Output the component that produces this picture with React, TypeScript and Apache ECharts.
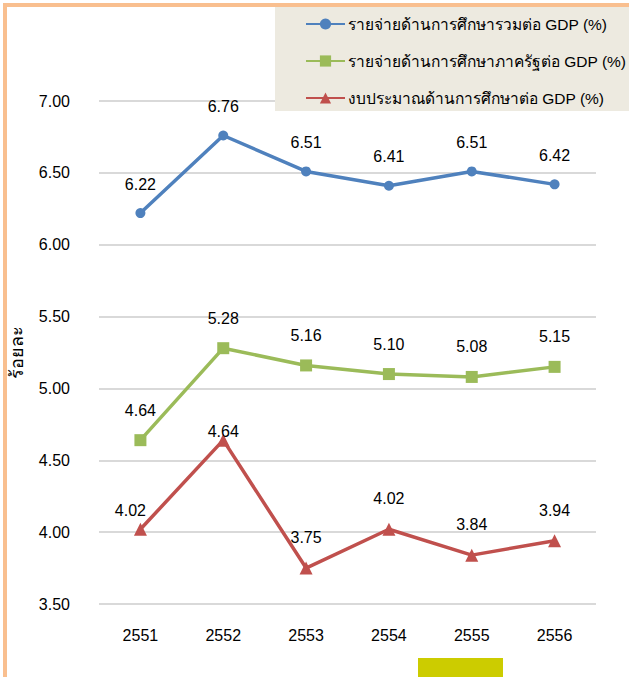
import React, { useEffect, useRef } from "react";
import * as echarts from "echarts";

const years = ["2551", "2552", "2553", "2554", "2555", "2556"];
const totalSpending = [6.22, 6.76, 6.51, 6.41, 6.51, 6.42];
const publicSpending = [4.64, 5.28, 5.16, 5.1, 5.08, 5.15];
const budget = [4.02, 4.64, 3.75, 4.02, 3.84, 3.94];
const seriesNames = [
  "รายจ่ายด้านการศึกษารวมต่อ GDP (%)",
  "รายจ่ายด้านการศึกษาภาครัฐต่อ GDP (%)",
  "งบประมาณด้านการศึกษาต่อ GDP (%)",
];
const yAxisName = "ร้อยละ";

const FONT = "'Liberation Sans', Arial, 'Noto Sans', sans-serif";

export default function App() {
  const ref = useRef<HTMLDivElement>(null);
  useEffect(() => {
    if (!ref.current) return;
    const chart = echarts.init(ref.current, null, { renderer: "svg" });
    const labelBase = {
      show: true,
      position: "top",
      distance: 16,
      color: "#000",
      fontSize: 16,
      fontFamily: FONT,
      formatter: (p: any) => Number(p.value).toFixed(2),
    };
    const budgetData = budget.map((v, i) => {
      if (i === 0) return { value: v, label: { distance: 4, offset: [-10, 0] } };
      if (i === 1) return { value: v, label: { distance: -6 } };
      return v;
    });
    chart.setOption({
      animation: false,
      backgroundColor: "#fff",
      textStyle: { fontFamily: FONT },
      grid: { left: 99, right: 33, top: 101, bottom: 73 },
      legend: {
        orient: "vertical",
        left: 305,
        top: 16,
        padding: 0,
        itemWidth: 39,
        itemHeight: 14,
        itemGap: 21,
        z: 10,
        textStyle: { fontSize: 15.5, color: "#000", fontFamily: FONT, padding: [0, 0, 0, -2] },
        data: seriesNames,
      },
      xAxis: {
        type: "category",
        data: years,
        boundaryGap: true,
        axisLine: { show: false },
        axisTick: { show: false },
        axisLabel: { fontSize: 16, color: "#000", margin: 23, fontFamily: FONT },
      },
      yAxis: {
        type: "value",
        min: 3.5,
        max: 7,
        interval: 0.5,
        name: yAxisName,
        nameLocation: "middle",
        nameGap: 73,
        nameRotate: 90,
        nameTextStyle: { fontSize: 18, fontWeight: "normal", color: "#000", fontFamily: FONT },
        axisLine: { show: false },
        axisTick: { show: false },
        axisLabel: {
          fontSize: 16,
          color: "#000",
          margin: 29,
          fontFamily: FONT,
          formatter: (v: number) => v.toFixed(2),
        },
        splitLine: { lineStyle: { color: "#D9D9D9", width: 2 } },
      },
      graphic: [
        { type: "rect", z: 5, shape: { x: 275, y: 6, width: 360, height: 105 }, style: { fill: "#EDEAE0" } },
        { type: "rect", z: 6, shape: { x: 3, y: 3, width: 630, height: 4 }, style: { fill: "#F9BF8F" } },
        { type: "rect", z: 6, shape: { x: 3, y: 3, width: 4, height: 680 }, style: { fill: "#F9BF8F" } },
        { type: "rect", z: 6, shape: { x: 418, y: 658, width: 85, height: 20 }, style: { fill: "#CCCC00" } },
      ],
      series: [
        {
          name: seriesNames[0],
          type: "line",
          data: totalSpending,
          symbol: "circle",
          symbolSize: 10,
          lineStyle: { color: "#4F81BD", width: 3.5 },
          itemStyle: { color: "#4F81BD" },
          label: labelBase,
        },
        {
          name: seriesNames[1],
          type: "line",
          data: publicSpending,
          symbol: "rect",
          symbolSize: 12,
          lineStyle: { color: "#9BBB59", width: 3.5 },
          itemStyle: { color: "#9BBB59" },
          label: labelBase,
        },
        {
          name: seriesNames[2],
          type: "line",
          data: budgetData,
          symbol: "triangle",
          symbolSize: 13,
          lineStyle: { color: "#C0504D", width: 3.5 },
          itemStyle: { color: "#C0504D" },
          label: labelBase,
        },
      ],
    });
    return () => chart.dispose();
  }, []);
  return (
    <div
      ref={ref}
      style={{ position: "fixed", left: 0, top: 0, width: 629, height: 677 }}
    />
  );
}
